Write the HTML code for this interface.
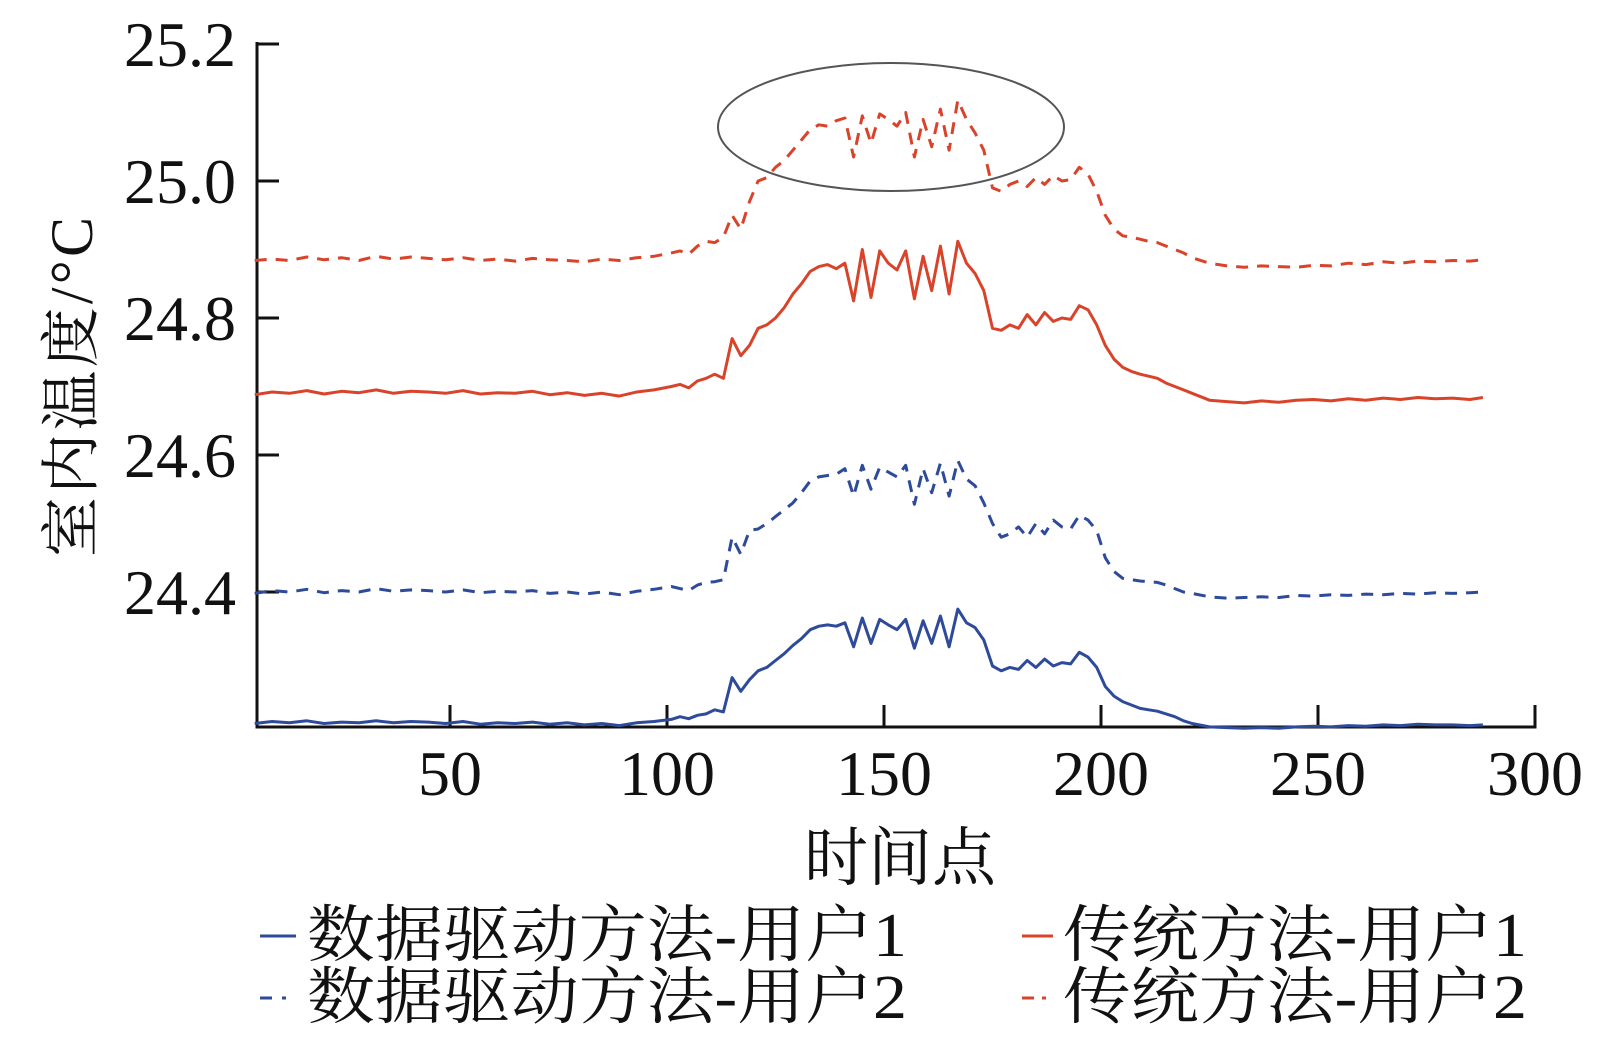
<!DOCTYPE html>
<html><head><meta charset="utf-8"><style>
html,body{margin:0;padding:0;background:#fff;}
svg{display:block;}
</style></head><body>
<svg id="chart" width="1610" height="1057" viewBox="0 0 1610 1057" xmlns="http://www.w3.org/2000/svg">
<g id="axes"></g>
<g id="series"></g>
<ellipse cx="891" cy="127" rx="173" ry="64" fill="none" stroke="#555" stroke-width="2"/>
<text x="900" y="880" text-anchor="middle" font-family="'Liberation Serif','Noto Serif CJK SC',serif" font-size="64" textLength="192" fill="#111">时间点</text>
<text transform="translate(92,387) rotate(-90)" text-anchor="middle" font-family="'Liberation Serif','Noto Serif CJK SC',serif" font-size="60" textLength="340" fill="#111">室内温度/°C</text>
<g font-family="'Liberation Serif','Noto Serif CJK SC',serif" font-size="62" fill="#111">
 <g>
  <line x1="260" y1="936" x2="296" y2="936" stroke="#2e4a9a" stroke-width="3"/>
  <text x="307" y="956" textLength="600" lengthAdjust="spacingAndGlyphs">数据驱动方法-用户1</text>
 </g>
 <g>
  <line x1="1022" y1="936" x2="1053" y2="936" stroke="#d9432a" stroke-width="3"/>
  <text x="1063" y="956" textLength="464" lengthAdjust="spacingAndGlyphs">传统方法-用户1</text>
 </g>
 <g>
  <line x1="260" y1="998" x2="296" y2="998" stroke="#2e4a9a" stroke-width="3" stroke-dasharray="12,10,4,10"/>
  <text x="307" y="1018" textLength="600" lengthAdjust="spacingAndGlyphs">数据驱动方法-用户2</text>
 </g>
 <g>
  <line x1="1022" y1="998" x2="1053" y2="998" stroke="#d9432a" stroke-width="3" stroke-dasharray="12,8,4,8"/>
  <text x="1063" y="1018" textLength="464" lengthAdjust="spacingAndGlyphs">传统方法-用户2</text>
 </g>
</g>
</svg>
<script>
const times = [5,9,13,17,21,25,29,33,37,41,45,49,53,57,61,65,69,73,77,81,85,89,93,97,101,
103,105,107,109,111,113,115,117,119,121,123,125,127,129,131,133,135,137,139,141,143,145,147,149,151,153,155,157,159,161,163,165,167,169,171,173,175,177,179,181,183,185,187,189,191,193,195,197,199,201,203,205,207,209,211,213,215,217,219,221,
225,229,233,237,241,245,249,253,257,261,265,269,273,277,281,285,288];

const tradUser1 = [24.688,24.692,24.690,24.694,24.689,24.693,24.691,24.695,24.690,24.693,24.692,24.690,24.694,24.689,24.691,24.690,24.693,24.688,24.691,24.687,24.690,24.686,24.692,24.695,24.700,
24.703,24.698,24.708,24.712,24.718,24.712,24.770,24.745,24.760,24.785,24.790,24.800,24.815,24.835,24.850,24.868,24.875,24.878,24.872,24.880,24.825,24.900,24.830,24.898,24.880,24.870,24.898,24.828,24.890,24.840,24.905,24.835,24.912,24.880,24.865,24.840,24.785,24.782,24.790,24.785,24.805,24.790,24.808,24.795,24.800,24.798,24.818,24.812,24.790,24.760,24.740,24.728,24.722,24.718,24.715,24.712,24.705,24.700,24.695,24.690,
24.680,24.678,24.676,24.679,24.677,24.680,24.681,24.679,24.682,24.680,24.683,24.681,24.684,24.682,24.683,24.681,24.684];

const tradUser2 = [24.884,24.886,24.884,24.889,24.885,24.888,24.884,24.890,24.886,24.889,24.887,24.885,24.888,24.884,24.886,24.883,24.887,24.885,24.884,24.882,24.886,24.884,24.888,24.890,24.895,
24.898,24.893,24.905,24.912,24.910,24.918,24.950,24.930,24.970,25.000,25.005,25.020,25.030,25.045,25.060,25.075,25.082,25.080,25.088,25.092,25.035,25.095,25.055,25.098,25.090,25.080,25.100,25.035,25.090,25.050,25.105,25.045,25.118,25.090,25.070,25.045,24.990,24.985,24.995,25.000,24.992,25.005,24.995,25.008,25.000,25.002,25.020,25.010,24.985,24.950,24.930,24.920,24.918,24.915,24.912,24.910,24.905,24.900,24.895,24.888,
24.880,24.876,24.874,24.876,24.875,24.874,24.877,24.876,24.880,24.878,24.882,24.880,24.883,24.882,24.884,24.883,24.885];

const dataUser2 = [24.398,24.402,24.400,24.404,24.399,24.402,24.400,24.405,24.401,24.403,24.402,24.400,24.403,24.399,24.401,24.400,24.402,24.398,24.400,24.397,24.400,24.396,24.401,24.404,24.408,
24.405,24.402,24.410,24.414,24.415,24.418,24.480,24.455,24.490,24.492,24.500,24.510,24.520,24.530,24.545,24.562,24.568,24.570,24.572,24.580,24.540,24.585,24.550,24.582,24.575,24.568,24.585,24.528,24.580,24.545,24.588,24.540,24.592,24.565,24.555,24.530,24.500,24.480,24.485,24.495,24.480,24.500,24.485,24.505,24.495,24.492,24.512,24.505,24.490,24.450,24.430,24.420,24.418,24.416,24.415,24.414,24.410,24.405,24.400,24.398,
24.393,24.391,24.392,24.393,24.392,24.395,24.394,24.396,24.395,24.397,24.396,24.398,24.397,24.399,24.398,24.399,24.400];

const dataUser1 = [24.208,24.211,24.209,24.212,24.208,24.210,24.209,24.212,24.209,24.211,24.210,24.208,24.211,24.207,24.209,24.208,24.210,24.207,24.209,24.206,24.208,24.205,24.209,24.211,24.214,
24.218,24.215,24.220,24.222,24.228,24.225,24.275,24.255,24.272,24.285,24.290,24.300,24.310,24.322,24.332,24.345,24.350,24.352,24.350,24.355,24.320,24.362,24.325,24.360,24.352,24.345,24.360,24.318,24.358,24.325,24.365,24.320,24.375,24.355,24.348,24.330,24.292,24.285,24.290,24.287,24.300,24.290,24.302,24.292,24.297,24.295,24.312,24.305,24.290,24.262,24.248,24.240,24.235,24.230,24.228,24.226,24.222,24.218,24.212,24.208,
24.203,24.202,24.201,24.202,24.201,24.203,24.204,24.203,24.205,24.204,24.206,24.205,24.207,24.206,24.206,24.205,24.206];

const xTicks = [50,100,150,200,250,300];
const xTickLabels = ["50","100","150","200","250","300"];
const yTicks = [25.2,25.0,24.8,24.6,24.4];
const yTickLabels = ["25.2","25.0","24.8","24.6","24.4"];

const NS = "http://www.w3.org/2000/svg";
function xs(t){ return 233 + t*4.34; }
function ys(v){ return 181 + (25.0 - v)*685; }
const axisLeft = 257, axisBottom = 727, axisRight = 1535, axisTop = 44;

const axes = document.getElementById('axes');
function mk(tag, attrs, parent){
  const e = document.createElementNS(NS, tag);
  for (const k in attrs) e.setAttribute(k, attrs[k]);
  parent.appendChild(e);
  return e;
}
const yl = mk('line',{x1:axisLeft,y1:axisTop-2,x2:axisLeft,y2:axisBottom+1.5,stroke:'#111','stroke-width':3},axes);


const xl = mk('line',{x1:axisLeft-1.5,y1:axisBottom,x2:axisRight+1.5,y2:axisBottom,stroke:'#111','stroke-width':3},axes);



xTicks.forEach((t,i)=>{
  const x = xs(t);
  const tk = mk('line',{x1:x,y1:axisBottom,x2:x,y2:axisBottom-22,stroke:'#111','stroke-width':3},axes);
  
  
  const tx = mk('text',{x:x,y:795,'text-anchor':'middle','font-family':"'Liberation Serif',serif",'font-size':64,fill:'#111'},axes);
  
  
  tx.textContent = xTickLabels[i];
});
yTicks.forEach((v,i)=>{
  const y = ys(v);
  const tk = mk('line',{x1:axisLeft,y1:y,x2:axisLeft+22,y2:y,stroke:'#111','stroke-width':3},axes);
  
  
  const tx = mk('text',{x:236,y:y+22,'text-anchor':'end','font-family':"'Liberation Serif',serif",'font-size':64,fill:'#111'},axes);
  
  
  tx.textContent = yTickLabels[i];
});

const series = document.getElementById('series');
function drawLine(vals, color, dash, name){
  const d = vals.map((v,i)=>(i?'L':'M')+xs(times[i]).toFixed(1)+','+ys(v).toFixed(1)).join(' ');
  const p = mk('path',{d:d,fill:'none',stroke:color,'stroke-width':3,'stroke-linejoin':'round'},series);
  if (dash) p.setAttribute('stroke-dasharray', dash);
  
  
}
drawLine(tradUser2,'#d9432a','12,9','line-trad-user2');
drawLine(tradUser1,'#d9432a',null,'line-trad-user1');
drawLine(dataUser2,'#2e4a9a','12,9','line-data-user2');
drawLine(dataUser1,'#2e4a9a',null,'line-data-user1');
</script>
</body></html>
